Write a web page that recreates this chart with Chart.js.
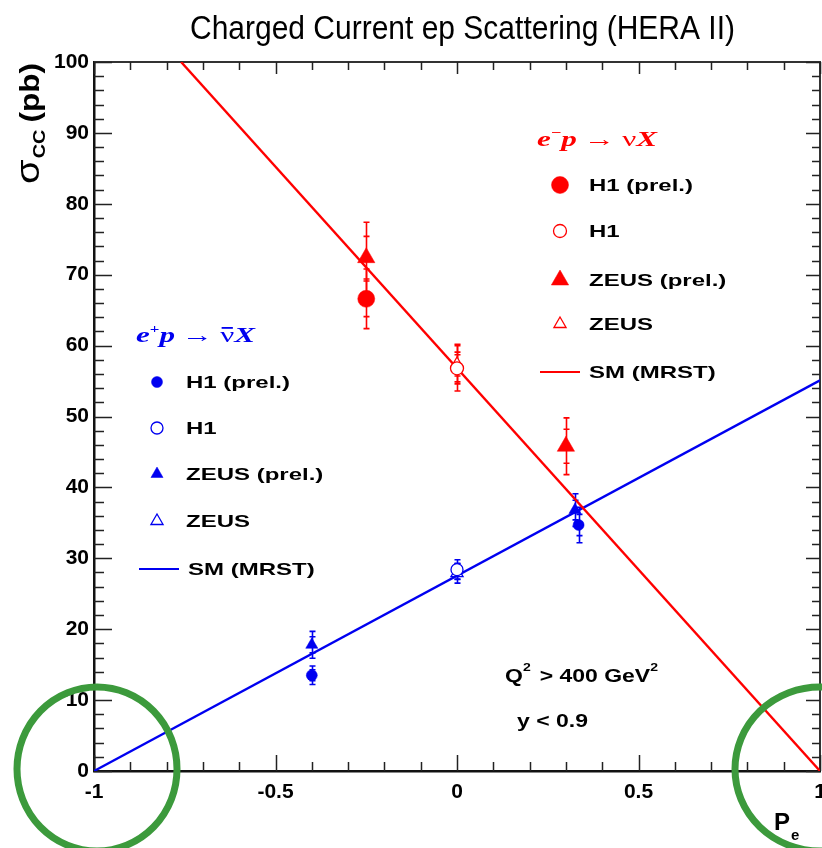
<!DOCTYPE html>
<html lang="en">
<head>
<meta charset="UTF-8" />
<script src="https://cdn.jsdelivr.net/npm/chart.js@4.4.0/dist/chart.umd.min.js"></script>
<title>Charged Current ep Scattering (HERA II)</title>
<style>
   html, body { margin: 0; padding: 0; background: #fff; }
   #chart { display: block; }
</style>
</head>
<body>
<canvas id="chart" width="822" height="848"></canvas>
<script>
   // values (x = lepton polarisation Pe, y = sigma_CC in pb)
   // e-p -> nu X (red)
   const emH1PrelPe = [-0.25];
   const emH1PrelSigma = [66.6];
   const emH1PrelErr = [4.2];
   const emH1Pe = [0];
   const emH1Sigma = [56.8];
   const emH1Err = [3.2];
   const emZeusPrelPe = [-0.25, 0.30];
   const emZeusPrelSigma = [72.4, 45.8];
   const emZeusPrelErr = [5.0, 4.0];
   const emZeusPe = [0];
   const emZeusSigma = [57.4];
   const emZeusErr = [2.8];
   const emSmPe = [-0.76, 1];
   const emSmSigma = [100, 0];

   // e+p -> nubar X (blue)
   const epH1PrelPe = [-0.4, 0.335];
   const epH1PrelSigma = [13.5, 34.7];
   const epH1PrelErr = [1.3, 2.5];
   const epH1Pe = [0];
   const epH1Sigma = [28.4];
   const epH1Err = [1.4];
   const epZeusPrelPe = [-0.4, 0.325];
   const epZeusPrelSigma = [17.8, 36.8];
   const epZeusPrelErr = [1.9, 2.3];
   const epZeusPe = [0];
   const epZeusSigma = [27.9];
   const epZeusErr = [1.4];
   const epSmPe = [-1, 1];
   const epSmSigma = [0, 55.1];

   // axis ranges / ticks
   const xRange = [-1, 1];
   const yRange = [0, 100];
   const xTickLabels = ['-1', '-0.5', '0', '0.5', '1'];
   const yLabelStep = 10;

   // green rings drawn around these points of the x axis
   const ringedPe = [-1, 1];

   const RED = '#ff0000';
   const BLUE = '#0000f0';
   const GREEN = '#3c9a3c';
   const SANS = '"Liberation Sans", Arial, sans-serif';
   const SERIF = '"Liberation Serif", "Times New Roman", serif';

   const pts = (xs, ys) => xs.map((x, i) => ({ x: x, y: ys[i] }));

   function markers(label, xs, ys, errs, color, style, radius, filled) {
      return {
         label: label,
         data: pts(xs, ys),
         errors: errs,
         showLine: false,
         pointStyle: style,
         pointRadius: radius,
         pointBackgroundColor: filled ? color : '#ffffff',
         pointBorderColor: color,
         pointBorderWidth: filled ? 0.5 : 1.3,
         borderColor: color,
         backgroundColor: color,
      };
   }

   function smLine(label, xs, ys, color) {
      return {
         label: label,
         data: pts(xs, ys),
         showLine: true,
         pointRadius: 0,
         borderColor: color,
         backgroundColor: color,
         borderWidth: 2.4,
      };
   }

   const datasets = [
      markers('H1 (prel.)', emH1PrelPe, emH1PrelSigma, emH1PrelErr, RED, 'circle', 8.5, true),
      markers('H1', emH1Pe, emH1Sigma, emH1Err, RED, 'circle', 6.5, false),
      markers('ZEUS (prel.)', emZeusPrelPe, emZeusPrelSigma, emZeusPrelErr, RED, 'triangle', 10, true),
      markers('ZEUS', emZeusPe, emZeusSigma, emZeusErr, RED, 'triangle', 7, false),
      markers('H1 (prel.)', epH1PrelPe, epH1PrelSigma, epH1PrelErr, BLUE, 'circle', 5.5, true),
      markers('H1', epH1Pe, epH1Sigma, epH1Err, BLUE, 'circle', 6, false),
      markers('ZEUS (prel.)', epZeusPrelPe, epZeusPrelSigma, epZeusPrelErr, BLUE, 'triangle', 7, true),
      markers('ZEUS', epZeusPe, epZeusSigma, epZeusErr, BLUE, 'triangle', 7, false),
      smLine('SM (MRST)', emSmPe, emSmSigma, RED),
      smLine('SM (MRST)', epSmPe, epSmSigma, BLUE),
   ];

   // draws a run of text pieces, squeezed/stretched to a given width
   function drawRun(ctx, parts, x, y, width) {
      let total = 0;
      for (const p of parts) {
         ctx.font = p.font;
         p.w = ctx.measureText(p.t).width;
         total += p.w + (p.gap || 0);
      }
      const sx = width ? width / total : 1;
      ctx.save();
      ctx.translate(x, y);
      ctx.scale(sx, 1);
      let cx = 0;
      for (const p of parts) {
         ctx.font = p.font;
         ctx.fillText(p.t, cx, p.dy || 0);
         if (p.bar) ctx.fillRect(cx + 1, (p.dy || 0) - p.bar, p.w - 2, 1.8);
         cx += p.w + (p.gap || 0);
      }
      ctx.restore();
   }

   const background = {
      id: 'background',
      beforeDraw(chart) {
         const c = chart.ctx;
         c.save();
         c.fillStyle = '#fff';
         c.fillRect(0, 0, chart.width, chart.height);
         c.restore();
      },
   };

   // ROOT style frame: inward ticks on all four sides, plus the error bars
   const frame = {
      id: 'frame',
      beforeDatasetsDraw(chart) {
         const c = chart.ctx;
         const a = chart.chartArea;
         const sx = chart.scales.x;
         const sy = chart.scales.y;
         c.save();
         c.strokeStyle = '#333';
         c.lineWidth = 2;
         c.beginPath();
         c.moveTo(a.left, a.top);
         c.lineTo(a.right, a.top);
         c.lineTo(a.right, a.bottom);
         c.stroke();
         c.strokeStyle = '#222';
         c.lineWidth = 1.5;
         c.beginPath();
         for (let i = 0; i <= 20; i++) {
            const v = xRange[0] + i * 0.1;
            const px = Math.round(sx.getPixelForValue(v)) + 0.5;
            const len = i % 5 === 0 ? 16 : 9;
            c.moveTo(px, a.bottom);
            c.lineTo(px, a.bottom - len);
            c.moveTo(px, a.top);
            c.lineTo(px, a.top + (i % 5 === 0 ? 12 : 8));
         }
         for (let i = 0; i <= 50; i++) {
            const v = yRange[0] + i * 2;
            const py = Math.round(sy.getPixelForValue(v)) + 0.5;
            const len = i % 5 === 0 ? 18 : 10;
            c.moveTo(a.left, py);
            c.lineTo(a.left + len, py);
            c.moveTo(a.right, py);
            c.lineTo(a.right - (i % 5 === 0 ? 14 : 8), py);
         }
         c.stroke();

         // x tick labels
         c.fillStyle = '#000';
         c.font = 'bold 21px ' + SANS;
         c.textAlign = 'center';
         c.textBaseline = 'top';
         xTickLabels.forEach(t => {
            c.fillText(t, sx.getPixelForValue(Number(t)), a.bottom + 11);
         });

         chart.data.datasets.forEach(ds => {
            if (!ds.errors) return;
            c.strokeStyle = ds.borderColor;
            c.lineWidth = 1.6;
            c.beginPath();
            ds.data.forEach((d, i) => {
               const px = Math.round(sx.getPixelForValue(d.x)) + 0.5;
               const top = sy.getPixelForValue(d.y + ds.errors[i]);
               const bot = sy.getPixelForValue(d.y - ds.errors[i]);
               const mid1 = sy.getPixelForValue(d.y + ds.errors[i] * 0.6);
               const mid2 = sy.getPixelForValue(d.y - ds.errors[i] * 0.6);
               c.moveTo(px, top);
               c.lineTo(px, bot);
               [top, bot, mid1, mid2].forEach(t => {
                  c.moveTo(px - 3, t);
                  c.lineTo(px + 3, t);
               });
            });
            c.stroke();
         });
         c.restore();
      },
   };

   const legendRows = [
      { ds: 0, x: 560, y: 185 },
      { ds: 1, x: 560, y: 231 },
      { ds: 2, x: 560, y: 280 },
      { ds: 3, x: 560, y: 324 },
      { ds: 8, x: 560, y: 372 },
      { ds: 4, x: 157, y: 382 },
      { ds: 5, x: 157, y: 428 },
      { ds: 6, x: 157, y: 474 },
      { ds: 7, x: 157, y: 521 },
      { ds: 9, x: 159, y: 569 },
   ];

   const texts = {
      id: 'texts',
      afterDraw(chart) {
         const c = chart.ctx;
         c.save();
         c.textBaseline = 'alphabetic';
         c.textAlign = 'left';

         // title
         c.fillStyle = '#000';
         drawRun(c, [{ t: 'Charged Current ep Scattering (HERA II)', font: '34px ' + SANS }], 190, 39, 545);

         // y axis title (rotated)
         c.save();
         c.translate(39, 184);
         c.rotate(-Math.PI / 2);
         drawRun(c, [
            { t: 'σ', font: '34px ' + SANS, gap: 1 },
            { t: 'CC', font: 'bold 17px ' + SANS, dy: 6, gap: 6 },
            { t: '(pb)', font: 'bold 27px ' + SANS },
         ], 0, 0, 121);
         c.restore();

         // x axis title
         drawRun(c, [
            { t: 'P', font: 'bold 24px ' + SANS, gap: 1 },
            { t: 'e', font: 'bold 15px ' + SANS, dy: 10 },
         ], 774, 830);

         // cuts
         drawRun(c, [
            { t: 'Q', font: 'bold 18px ' + SANS },
            { t: '2', font: 'bold 11px ' + SANS, dy: -11, gap: 2 },
            { t: ' > 400 GeV', font: 'bold 18px ' + SANS },
            { t: '2', font: 'bold 11px ' + SANS, dy: -11 },
         ], 505, 682, 153);
         drawRun(c, [{ t: 'y < 0.9', font: 'bold 18px ' + SANS }], 517, 727, 71);

         // legend headers
         c.fillStyle = RED;
         drawRun(c, [
            { t: 'e', font: 'bold italic 22px ' + SERIF },
            { t: '−', font: 'bold 13px ' + SERIF, dy: -9 },
            { t: 'p', font: 'bold italic 22px ' + SERIF, gap: 5 },
            { t: '→', font: '22px ' + SERIF, gap: 5 },
            { t: 'ν', font: '22px ' + SERIF },
            { t: 'X', font: 'bold italic 22px ' + SERIF },
         ], 537, 146, 120);
         c.fillStyle = BLUE;
         drawRun(c, [
            { t: 'e', font: 'bold italic 22px ' + SERIF },
            { t: '+', font: 'bold 12px ' + SERIF, dy: -9 },
            { t: 'p', font: 'bold italic 22px ' + SERIF, gap: 5 },
            { t: '→', font: '22px ' + SERIF, gap: 5 },
            { t: 'ν', font: '22px ' + SERIF, bar: 15 },
            { t: 'X', font: 'bold italic 22px ' + SERIF },
         ], 136, 342, 119);

         // legend entries
         c.font = 'bold 17px ' + SANS;
         const stretch = 104 / c.measureText('H1 (prel.)').width;
         legendRows.forEach(r => {
            const ds = chart.data.datasets[r.ds];
            if (ds.showLine) {
               c.strokeStyle = ds.borderColor;
               c.lineWidth = 2.2;
               c.beginPath();
               c.moveTo(r.x - 20, r.y);
               c.lineTo(r.x + 20, r.y);
               c.stroke();
            } else {
               c.fillStyle = ds.pointBackgroundColor;
               c.strokeStyle = ds.pointBorderColor;
               c.lineWidth = ds.pointBorderWidth;
               Chart.helpers.drawPoint(c, {
                  pointStyle: ds.pointStyle,
                  radius: ds.pointRadius,
                  borderWidth: ds.pointBorderWidth,
                  rotation: 0,
               }, r.x, r.y);
            }
            c.fillStyle = '#000';
            c.textBaseline = 'middle';
            c.font = 'bold 17px ' + SANS;
            const w = c.measureText(ds.label).width * stretch;
            drawRun(c, [{ t: ds.label, font: 'bold 17px ' + SANS }], r.x + 29, r.y + 1, w);
            c.textBaseline = 'alphabetic';
         });

         // green rings
         const sx = chart.scales.x;
         const sy = chart.scales.y;
         c.strokeStyle = GREEN;
         c.lineWidth = 7;
         ringedPe.forEach(v => {
            c.beginPath();
            c.ellipse(sx.getPixelForValue(v) + (v < 0 ? 3 : 0), sy.getPixelForValue(0) - 2, v < 0 ? 80 : 85, 82, 0, 0, Math.PI * 2);
            c.stroke();
         });
         c.restore();
      },
   };

   const ctx = document.getElementById('chart').getContext('2d');
   const chart = new Chart(ctx, {
      type: 'scatter',
      data: { datasets: datasets },
      options: {
         responsive: false,
         animation: false,
         layout: { autoPadding: false, padding: { top: 62, right: 2, left: 0, bottom: 0 } },
         plugins: {
            legend: { display: false },
            tooltip: { enabled: false },
            title: { display: false },
         },
         scales: {
            x: {
               type: 'linear',
               min: xRange[0],
               max: xRange[1],
               grid: { display: false, drawTicks: false },
               border: { display: true, color: '#111', width: 2.5 },
               ticks: { display: false },
               afterFit: s => {
                  s.height = 77;
               },
            },
            y: {
               min: yRange[0],
               max: yRange[1],
               grid: { display: false, drawTicks: false },
               border: { display: true, color: '#111', width: 2.5 },
               ticks: {
                  stepSize: yLabelStep,
                  padding: 5,
                  color: '#000',
                  font: { family: SANS, size: 21, weight: 'bold' },
               },
               afterFit: s => {
                  s.width = 94;
                  s.paddingTop = 0;
                  s.paddingBottom = 0;
               },
            },
         },
      },
      plugins: [background, frame, texts],
   });
</script>
</body>
</html>
